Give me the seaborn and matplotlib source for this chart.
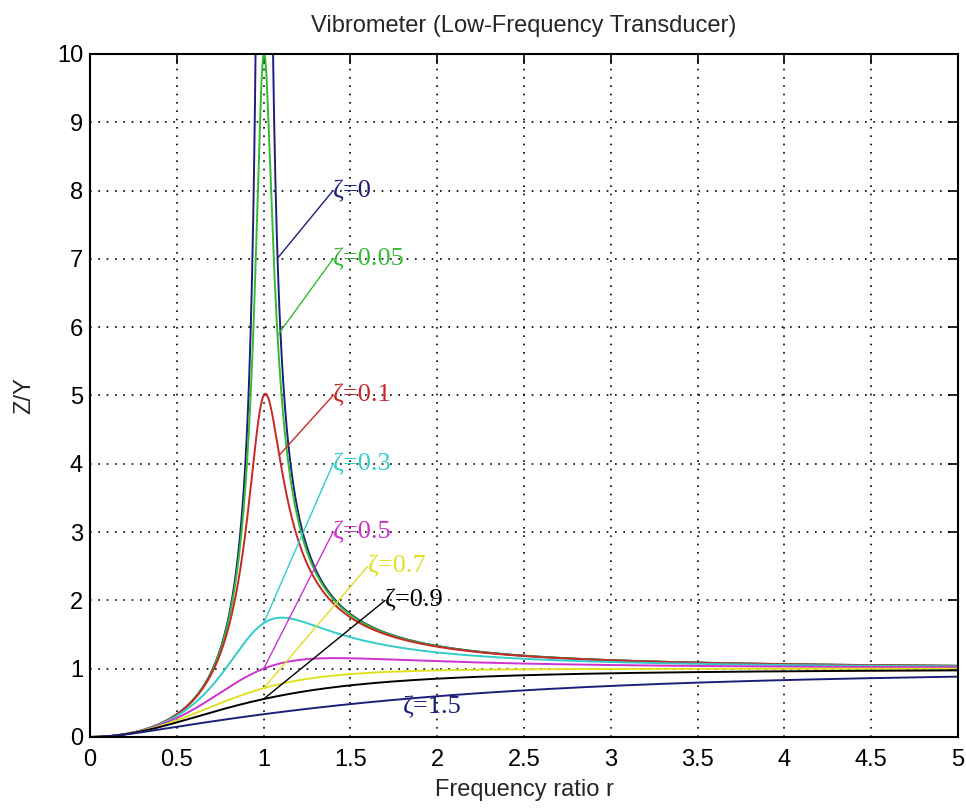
import numpy as np
import pandas as pd
import matplotlib
matplotlib.use("Agg")
import matplotlib.pyplot as plt
import seaborn as sns

# Damping ratios plotted, their colours and the text labels placed on the chart
zetas = [0, 0.05, 0.1, 0.3, 0.5, 0.7, 0.9, 1.5]
zeta_labels = ["ζ=0", "ζ=0.05", "ζ=0.1", "ζ=0.3", "ζ=0.5", "ζ=0.7", "ζ=0.9", "ζ=1.5"]
line_colors = ["#1c1f7a", "#33bb33", "#c62828", "#33cccc", "#cc33cc",
               "#e0e020", "#000000", "#1c1f7a"]

# Label positions (data coords) and the frequency ratio where each leader line meets its curve
label_x = [1.4, 1.4, 1.4, 1.4, 1.4, 1.6, 1.7, 1.8]
label_y = [8.0, 7.0, 5.0, 4.0, 3.0, 2.5, 2.0, 0.44]
anchor_r = [1.08, 1.08, 1.09, 1.0, 1.0, 1.0, 1.0, None]

x_ticks = [0, 0.5, 1, 1.5, 2, 2.5, 3, 3.5, 4, 4.5, 5]
x_tick_labels = ["0", "0.5", "1", "1.5", "2", "2.5", "3", "3.5", "4", "4.5", "5"]
y_ticks = [0, 1, 2, 3, 4, 5, 6, 7, 8, 9, 10]


def relative_motion(r, zeta):
    """Amplitude ratio Z/Y of a seismic (vibrometer) instrument."""
    r = np.asarray(r, dtype=float)
    denom = np.sqrt((1 - r ** 2) ** 2 + (2 * zeta * r) ** 2)
    with np.errstate(divide="ignore", invalid="ignore"):
        out = np.where(denom > 0, r ** 2 / np.where(denom > 0, denom, 1), 1e3)
    return out


r = np.linspace(0, 5, 2001)
frames = [pd.DataFrame({"r": r, "ZY": relative_motion(r, z), "zeta": z}) for z in zetas]
df = pd.concat(frames, ignore_index=True)

sns.set_style("white")
plt.rcParams["font.family"] = ["Liberation Sans", "DejaVu Sans"]

fig = plt.figure(figsize=(9.66, 8.08), dpi=100)
ax = fig.add_axes([0.0932, 0.0879, 0.8986, 0.8453])

sns.lineplot(data=df, x="r", y="ZY", hue="zeta",
             palette=dict(zip(zetas, line_colors)),
             estimator=None, sort=False, legend=False,
             linewidth=1.4, ax=ax)

# Leader lines and damping labels
for z, lab, col, lx, ly, ar in zip(zetas, zeta_labels, line_colors,
                                   label_x, label_y, anchor_r):
    if ar is not None:
        ay = float(relative_motion(ar, z))
        ax.plot([ar, lx], [ay, ly], color=col, linewidth=1.0)
    ax.text(lx, ly, lab, color=col, fontsize=19, ha="left", va="center",
            family=["Liberation Serif", "DejaVu Serif"])

ax.set_xlim(0, 5)
ax.set_ylim(0, 10)
ax.set_xticks(x_ticks)
ax.set_xticklabels(x_tick_labels)
ax.set_yticks(y_ticks)

ax.set_axisbelow(True)
ax.grid(True, color="black", linestyle=(0, (1, 4)), linewidth=1.2)

for sp in ax.spines.values():
    sp.set_visible(True)
    sp.set_color("black")
    sp.set_linewidth(1.5)

ax.tick_params(axis="both", direction="in", top=True, right=True,
               length=7, width=1.2, labelsize=17, colors="black")
ax.tick_params(axis="x", pad=9)
ax.tick_params(axis="y", pad=5)

ax.set_title("Vibrometer (Low-Frequency Transducer)", fontsize=17, pad=16)
ax.set_xlabel("Frequency ratio r", fontsize=17)
ax.set_ylabel("Z/Y", fontsize=17)
ax.xaxis.set_label_coords(0.5, -0.062)
ax.yaxis.set_label_coords(-0.063, 0.5)

fig.savefig("out.png", dpi=100, facecolor="white")
